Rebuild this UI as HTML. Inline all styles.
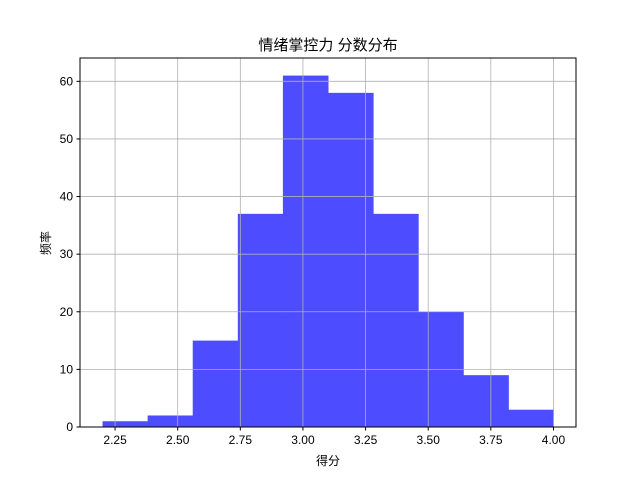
<!DOCTYPE html>
<html><head><meta charset="utf-8"><style>
body{margin:0;background:#fff;}
svg{display:block;font-family:"Liberation Sans","Noto Sans CJK SC","WenQuanYi Zen Hei",sans-serif;}
</style></head><body>
<svg id="chart" width="640" height="480">
<rect width="640" height="480" fill="#fff"/>
<text x="328" y="50" text-anchor="middle" font-size="15">情绪掌控力 分数分布</text>
<g id="bars"></g>
<g id="grid"></g>
<rect x="80" y="58" width="496" height="369" fill="none" stroke="#000" stroke-width="1"/>
<g id="axes"></g>
<text x="328" y="465" text-anchor="middle" font-size="12">得分</text>
<text x="50" y="243" text-anchor="middle" font-size="12" transform="rotate(-90 50 243)">频率</text>
</svg>
<script>
const binStart = 2.2;
const binEnd = 4.0;
const counts = [1, 2, 15, 37, 61, 58, 37, 20, 9, 3];
const xTicks = [2.25, 2.5, 2.75, 3.0, 3.25, 3.5, 3.75, 4.0];
const xTickLabels = ["2.25", "2.50", "2.75", "3.00", "3.25", "3.50", "3.75", "4.00"];
const yTicks = [0, 10, 20, 30, 40, 50, 60];

const L = 80, R = 576, T = 58, B = 427;
const span = binEnd - binStart;
const xmin = binStart - 0.05 * span, xmax = binEnd + 0.05 * span;
const ymax = Math.max(...counts) * 1.05;
const xs = v => L + (v - xmin) / (xmax - xmin) * (R - L);
const ys = v => B - v / ymax * (B - T);
const NS = "http://www.w3.org/2000/svg";
const grid = document.getElementById('grid'), bars = document.getElementById('bars'), axes = document.getElementById('axes');
function mk(tag, attrs, parent) { const e = document.createElementNS(NS, tag); for (const k in attrs) e.setAttribute(k, attrs[k]); parent.appendChild(e); return e; }

xTicks.forEach((t, i) => {
  const x = xs(t);
  const g = mk('line', {x1: x, x2: x, y1: T, y2: B, stroke: '#b0b0b0', 'stroke-width': 0.8}, grid);
  
  
  mk('line', {x1: x, x2: x, y1: B, y2: B + 3.5, stroke: '#000'}, axes);
  const tx = mk('text', {x: x, y: B + 17, 'text-anchor': 'middle', 'font-size': 12}, axes);
  tx.textContent = xTickLabels[i];
  
  
});
yTicks.forEach(t => {
  const y = ys(t);
  const g = mk('line', {x1: L, x2: R, y1: y, y2: y, stroke: '#b0b0b0', 'stroke-width': 0.8}, grid);
  
  
  mk('line', {x1: L - 3.5, x2: L, y1: y, y2: y, stroke: '#000'}, axes);
  const tx = mk('text', {x: L - 7, y: y + 4, 'text-anchor': 'end', 'font-size': 12}, axes);
  tx.textContent = String(t);
  
  
});
const w = span / counts.length;
counts.forEach((c, i) => {
  const x0 = xs(binStart + i * w), x1 = xs(binStart + (i + 1) * w);
  const r = mk('rect', {x: x0, y: ys(c), width: x1 - x0 + 0.5, height: B - ys(c), fill: '#4d4dff'}, bars);
  
  
});
</script>
</body></html>
